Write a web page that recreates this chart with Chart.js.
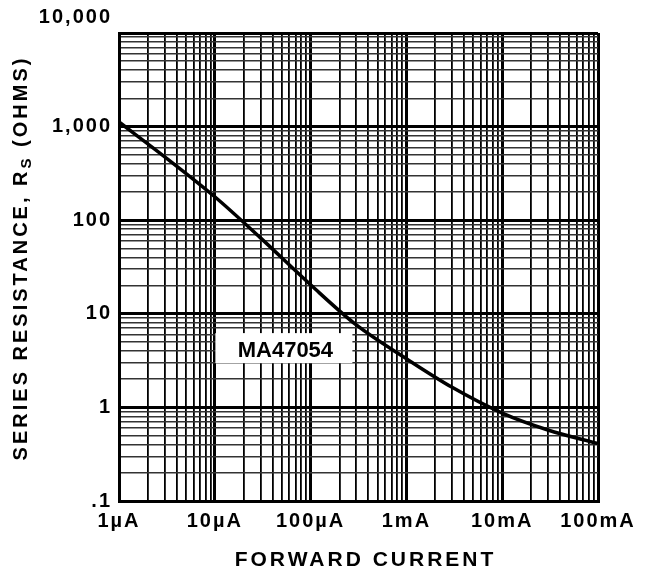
<!DOCTYPE html>
<html>
<head>
<meta charset="utf-8">
<script src="https://cdn.jsdelivr.net/npm/chart.js@4/dist/chart.umd.min.js"></script>
<style>
  html, body { margin: 0; padding: 0; background: #fff; }
  #wrap { width: 646px; height: 573px; }
</style>
</head>
<body>
<div id="wrap"><canvas id="c" width="646" height="573"></canvas></div>
<script>
// ---- Data ----
const currentA = [1e-6, 3e-6, 1e-5, 3e-5, 1e-4, 3e-4, 1e-3, 3e-3, 1e-2, 3e-2, 1e-1];
const resistanceOhms = [1120, 476, 178, 64.7, 20.4, 7.6, 3.31, 1.64, 0.87, 0.574, 0.41];
const seriesLabel = 'MA47054';

const xDecades = [1e-6, 1e-5, 1e-4, 1e-3, 1e-2, 1e-1];
const xTickLabels = ['1µA', '10µA', '100µA', '1mA', '10mA', '100mA'];
const yDecades = [0.1, 1, 10, 100, 1000, 10000];
const yTickLabels = ['.1', '1', '10', '100', '1,000', '10,000'];
const minorMultipliers = [2, 3, 4, 5, 6, 7, 8, 9];

const xTitle = 'FORWARD CURRENT';
const yTitleMain = 'SERIES RESISTANCE, R';
const yTitleSub = 'S';
const yTitleEnd = ' (OHMS)';

// anchor (data coords) of the series label box
const labelAnchorX = 5.2e-5;
const labelAnchorY = 4.3;

function gridValues(decades) {
  const v = [];
  decades.forEach((d, i) => {
    v.push(d);
    if (i < decades.length - 1) minorMultipliers.forEach(m => v.push(d * m));
  });
  return v;
}
function decadeIndex(decades, val) {
  for (let i = 0; i < decades.length; i++) {
    if (Math.abs(Math.log10(val) - Math.log10(decades[i])) < 1e-6) return i;
  }
  return -1;
}

const FONT = '"Liberation Sans", Arial, Helvetica, sans-serif';

const spacingPlugin = {
  id: 'spacing',
  beforeDraw(chart) {
    try { chart.ctx.letterSpacing = '2px'; } catch (e) {}
  }
};

const annotPlugin = {
  id: 'annot',
  afterDraw(chart) {
    const ctx = chart.ctx;
    const area = chart.chartArea;
    const ys = chart.scales.y;
    const xs = chart.scales.x;
    ctx.save();
    ctx.fillStyle = '#000';

    // top y label (sits above the plot in the reference)
    try { ctx.letterSpacing = '2px'; } catch (e) {}
    ctx.font = 'bold 20px ' + FONT;
    ctx.textAlign = 'right';
    ctx.textBaseline = 'middle';
    ctx.fillText(yTickLabels[yTickLabels.length - 1], area.left - 7, ys.getPixelForValue(yDecades[yDecades.length - 1]) - 16);

    // Series label box
    const bx = xs.getPixelForValue(labelAnchorX);
    const by = ys.getPixelForValue(labelAnchorY);
    ctx.fillStyle = '#fff';
    ctx.fillRect(bx - 68, by - 15, 137, 30);
    ctx.fillStyle = '#000';
    try { ctx.letterSpacing = '0px'; } catch (e) {}
    ctx.font = 'bold 22px ' + FONT;
    ctx.textAlign = 'center';
    ctx.fillText(seriesLabel, bx + 2, by + 3);

    // X title
    ctx.font = 'bold 21px ' + FONT;
    try { ctx.letterSpacing = '3px'; } catch (e) {}
    ctx.textAlign = 'center';
    ctx.fillText(xTitle, (area.left + area.right) / 2 + 7, 560);

    // Y title with subscript
    ctx.save();
    ctx.translate(21, 258);
    ctx.rotate(-Math.PI / 2);
    try { ctx.letterSpacing = '3px'; } catch (e) {}
    ctx.font = 'bold 20px ' + FONT;
    const w1 = ctx.measureText(yTitleMain).width;
    ctx.font = 'bold 15px ' + FONT;
    const w2 = ctx.measureText(yTitleSub).width;
    ctx.font = 'bold 20px ' + FONT;
    const w3 = ctx.measureText(yTitleEnd).width;
    let x0 = -(w1 + w2 + w3) / 2;
    ctx.textAlign = 'left';
    ctx.textBaseline = 'middle';
    ctx.fillText(yTitleMain, x0, 0);
    ctx.font = 'bold 15px ' + FONT;
    ctx.fillText(yTitleSub, x0 + w1, 6);
    ctx.font = 'bold 20px ' + FONT;
    ctx.fillText(yTitleEnd, x0 + w1 + w2, 0);
    ctx.restore();

    ctx.restore();
  }
};

new Chart(document.getElementById('c'), {
  type: 'line',
  data: {
    datasets: [{
      label: seriesLabel,
      data: currentA.map((x, i) => ({ x: x, y: resistanceOhms[i] })),
      borderColor: '#000',
      borderWidth: 3.5,
      pointRadius: 0,
      fill: false,
      cubicInterpolationMode: 'monotone'
    }]
  },
  options: {
    responsive: false,
    animation: false,
    devicePixelRatio: 1,
    layout: { padding: { top: 33, right: 48, left: 0, bottom: 0 } },
    plugins: { legend: { display: false }, tooltip: { enabled: false } },
    scales: {
      x: {
        type: 'logarithmic',
        min: xDecades[0],
        max: xDecades[xDecades.length - 1],
        afterBuildTicks: s => { s.ticks = gridValues(xDecades).map(v => ({ value: v })); },
        afterFit: s => { s.height = 72; },
        border: { display: true, color: '#000', width: 3 },
        grid: {
          drawTicks: false,
          color: c => '#000',
          lineWidth: c => (c.tick && decadeIndex(xDecades, c.tick.value) >= 0) ? 3 : 1.8
        },
        ticks: {
          autoSkip: false,
          maxRotation: 0,
          minRotation: 0,
          padding: 8,
          color: '#000',
          font: { family: FONT, size: 20, weight: 'bold' },
          callback: function (val) {
            const i = decadeIndex(xDecades, val);
            return i >= 0 ? xTickLabels[i] : '';
          }
        }
      },
      y: {
        type: 'logarithmic',
        min: yDecades[0],
        max: yDecades[yDecades.length - 1],
        afterBuildTicks: s => { s.ticks = gridValues(yDecades).map(v => ({ value: v })); },
        afterFit: s => { s.width = 119; },
        border: { display: true, color: '#000', width: 3 },
        grid: {
          drawTicks: false,
          color: c => (c.tick && decadeIndex(yDecades, c.tick.value) >= 0) ? '#000' : '#333',
          lineWidth: c => (c.tick && decadeIndex(yDecades, c.tick.value) >= 0) ? 3 : 1.6
        },
        ticks: {
          autoSkip: false,
          padding: 7,
          color: '#000',
          font: { family: FONT, size: 20, weight: 'bold' },
          callback: function (val) {
            const i = decadeIndex(yDecades, val);
            if (i < 0 || i === yDecades.length - 1) return '';
            return yTickLabels[i];
          }
        }
      }
    }
  },
  plugins: [spacingPlugin, annotPlugin]
});
</script>
</body>
</html>
